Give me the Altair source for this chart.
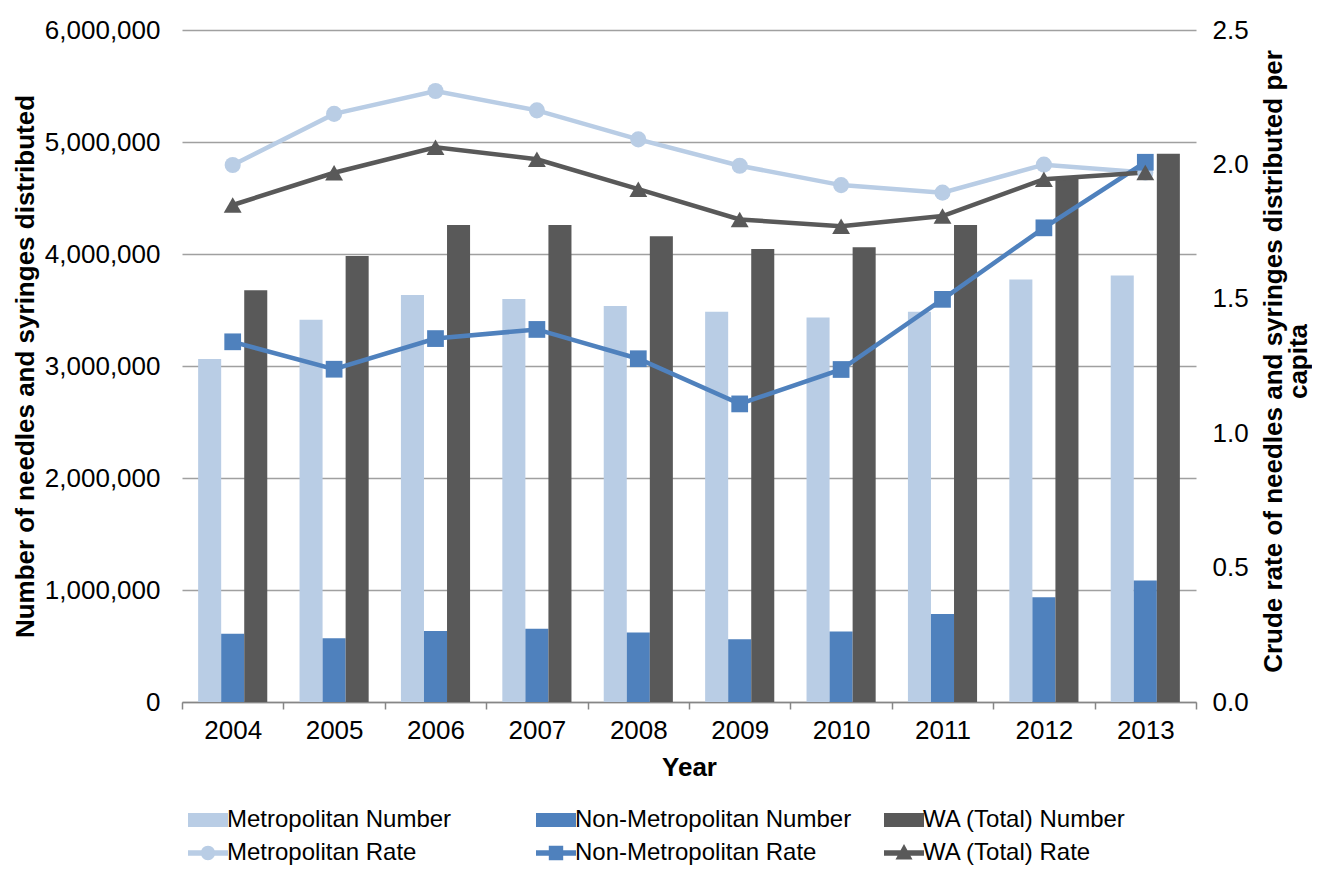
import altair as alt
import pandas as pd

years = ["2004", "2005", "2006", "2007", "2008", "2009", "2010", "2011", "2012", "2013"]

metro_number = [3062000, 3413000, 3634000, 3598000, 3536000, 3485000, 3434000, 3485000, 3772000, 3809000]
nonmetro_number = [610000, 570000, 635000, 655000, 620000, 560000, 630000, 785000, 935000, 1085000]
wa_number = [3676000, 3982000, 4259000, 4259000, 4158000, 4045000, 4060000, 4258000, 4678000, 4896000]

metro_rate = [1.998, 2.188, 2.273, 2.201, 2.093, 1.995, 1.923, 1.895, 1.999, 1.970]
nonmetro_rate = [1.340, 1.238, 1.352, 1.386, 1.277, 1.109, 1.237, 1.498, 1.764, 2.008]
wa_rate = [1.849, 1.969, 2.064, 2.019, 1.908, 1.795, 1.770, 1.808, 1.945, 1.970]

bar_series = ["Metropolitan Number", "Non-Metropolitan Number", "WA (Total) Number"]
rate_series = ["Metropolitan Rate", "Non-Metropolitan Rate", "WA (Total) Rate"]
all_series = bar_series + rate_series

LIGHT = "#B9CDE5"
MID = "#4F81BD"
DARK = "#595959"
colors = [LIGHT, MID, DARK, LIGHT, MID, DARK]

FONT = "Liberation Sans"

bar_rows = []
for s, vals in zip(bar_series, [metro_number, nonmetro_number, wa_number]):
    for y, v in zip(years, vals):
        bar_rows.append({"Year": y, "Series": s, "Number": v})
bars_df = pd.DataFrame(bar_rows)

rate_rows = []
for s, vals in zip(rate_series, [metro_rate, nonmetro_rate, wa_rate]):
    for y, v in zip(years, vals):
        rate_rows.append({"Year": y, "Series": s, "Rate": v})
rates_df = pd.DataFrame(rate_rows)

# legend symbols: rectangles for bars, line + marker for rates
rect_path = "M-2,-0.7H2V0.7H-2Z"
line_part = "M-2,-0.28H2V0.28H-2Z"
circle_path = line_part + " M0.72,0A0.72,0.72,0,1,1,-0.72,0A0.72,0.72,0,1,1,0.72,0Z"
square_path = line_part + " M-0.72,-0.72H0.72V0.72H-0.72Z"
triangle_path = line_part + " M0,-0.9L0.85,0.65H-0.85Z"
legend_paths = [rect_path, rect_path, rect_path, circle_path, square_path, triangle_path]

color_scale = alt.Scale(domain=all_series, range=colors)
shape_scale = alt.Scale(domain=all_series, range=legend_paths)

legend_spec = alt.Legend(
    title=None,
    orient="none",
    legendX=14,
    legendY=778,
    direction="horizontal",
    columns=3,
    gridAlign="all",
    columnPadding=32,
    rowPadding=9,
    symbolSize=400,
    symbolStrokeWidth=0,
    symbolOpacity=1,
    labelFont=FONT,
    labelFontSize=24,
    labelColor="#000000",
    labelLimit=600,
    labelOffset=7,
    padding=0,
)

x_enc = alt.X(
    "Year:N",
    sort=years,
    scale=alt.Scale(paddingInner=0, paddingOuter=0),
    axis=alt.Axis(
        title="Year",
        labelAngle=0,
        labelFont=FONT,
        labelFontSize=26,
        labelColor="#000000",
        labelPadding=8,
        titleFont=FONT,
        titleFontSize=26,
        titleFontWeight="bold",
        titleColor="#000000",
        titlePadding=11,
        domainColor="#868686",
        domainWidth=1.5,
        tickColor="#868686",
        tickWidth=1.5,
        tickSize=7,
        tickBand="extent",
        grid=False,
    ),
)

legend_layer = (
    alt.Chart(rates_df)
    .transform_filter("datum.Rate < 0")
    .mark_point(filled=True)
    .encode(
        color=alt.Color("Series:N", scale=color_scale, legend=legend_spec),
        shape=alt.Shape("Series:N", scale=shape_scale, legend=legend_spec),
    )
)

bars = (
    alt.Chart(bars_df)
    .mark_bar()
    .encode(
        x=x_enc,
        xOffset=alt.XOffset("Series:N", sort=bar_series,
                            scale=alt.Scale(domain=bar_series, paddingInner=0, paddingOuter=0.7)),
        y=alt.Y(
            "Number:Q",
            scale=alt.Scale(domain=[0, 6000000], nice=False),
            axis=alt.Axis(
                title="Number of needles and syringes distributed",
                orient="left",
                values=[0, 1000000, 2000000, 3000000, 4000000, 5000000, 6000000],
                format=",.0f",
                labelFont=FONT,
                labelFontSize=26,
                labelColor="#000000",
                labelPadding=22,
                ticks=False,
                domain=False,
                grid=True,
                gridColor="#A0A0A0",
                gridWidth=1.5,
                titleFont=FONT,
                titleFontSize=26,
                titleFontWeight="bold",
                titleColor="#000000",
                titleAngle=270,
                titleAlign="center",
                titleBaseline="middle",
                titleX=-157,
                titleY=336,
            ),
        ),
        color=alt.Color("Series:N", scale=color_scale, legend=legend_spec),
    )
)

right_axis = alt.Axis(
    title=["Crude rate of needles and syringes distributed per", "capita"],
    orient="right",
    values=[0, 0.5, 1.0, 1.5, 2.0, 2.5],
    format=".1f",
    labelFont=FONT,
    labelFontSize=26,
    labelColor="#000000",
    labelPadding=16,
    ticks=False,
    domain=False,
    grid=False,
    titleFont=FONT,
    titleFontSize=26,
    titleFontWeight="bold",
    titleColor="#000000",
    titleAngle=270,
    titleAlign="center",
    titleBaseline="middle",
    titleLineHeight=25,
    titleX=77,
    titleY=331,
)

y_rate = alt.Y("Rate:Q", scale=alt.Scale(domain=[0, 2.5], nice=False), axis=right_axis)

lines = (
    alt.Chart(rates_df)
    .mark_line(strokeWidth=4.5)
    .encode(
        x=x_enc,
        y=y_rate,
        color=alt.Color("Series:N", scale=color_scale, legend=legend_spec),
        detail="Series:N",
    )
)

marker_shapes = ["circle", "square", "triangle-up"]
marker_sizes = [260, 280, 320]
point_layers = []
for s, shp, sz in zip(rate_series, marker_shapes, marker_sizes):
    point_layers.append(
        alt.Chart(rates_df)
        .transform_filter(alt.datum.Series == s)
        .mark_point(filled=True, shape=shp, size=sz, opacity=1)
        .encode(
            x=x_enc,
            y=y_rate,
            color=alt.Color("Series:N", scale=color_scale, legend=legend_spec),
        )
    )

rate_layer = alt.layer(lines, *point_layers)

chart = (
    alt.layer(legend_layer, bars, rate_layer)
    .resolve_scale(y="independent")
    .properties(
        width=1014,
        height=672,
        padding={"left": 174, "top": 22, "right": 116, "bottom": 166},
        autosize=alt.AutoSizeParams(type="none"),
    )
    .configure(font=FONT)
    .configure_view(stroke=None)
)

chart.save("out.html", embed_options={"renderer": "svg", "actions": False})
